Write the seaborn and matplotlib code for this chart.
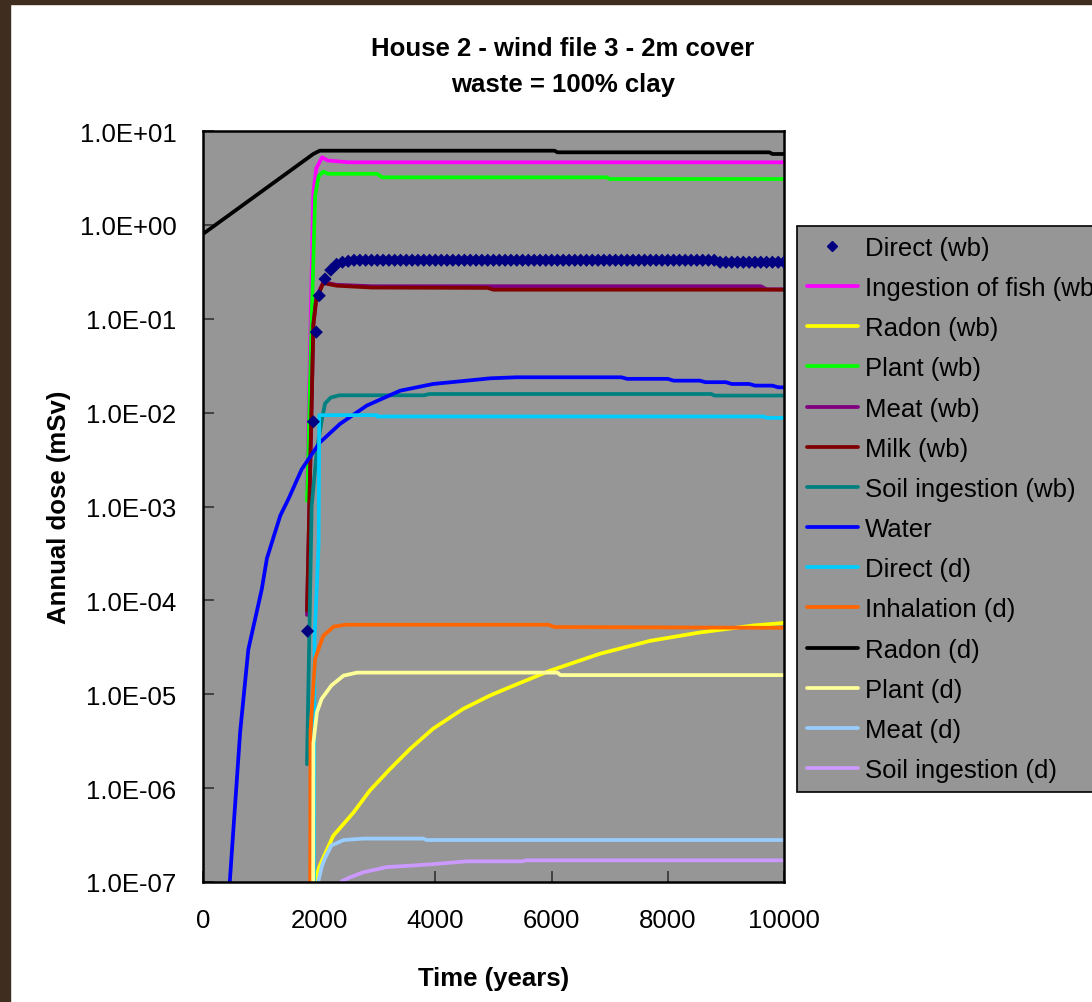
"""Annual dose per pathway, House 2 - wind file 3 - 2m cover, waste = 100% clay."""

import numpy as np
import pandas as pd
import matplotlib
matplotlib.use('Agg')
import matplotlib.pyplot as plt
from matplotlib.lines import Line2D
from matplotlib.patches import Rectangle
from matplotlib.ticker import FixedLocator, FuncFormatter
import seaborn as sns

# Direct (wb) is drawn as markers only, one point every 100 years
direct_wb_years = [1800, 1900, 1950, 2000, 2100, 2200, 2300] + list(range(2400, 10001, 100))
direct_wb_dose = [
    4.7e-5, 8.0e-3, 0.072, 0.176, 0.265, 0.33, 0.38,
    0.40, 0.41, 0.42, 0.42, 0.42, 0.42, 0.42, 0.42, 0.42, 0.42,
    0.42, 0.42, 0.42, 0.42, 0.42, 0.42, 0.42, 0.42, 0.42, 0.42,
    0.42, 0.42, 0.42, 0.42, 0.42, 0.42, 0.42, 0.42, 0.42, 0.42,
    0.42, 0.42, 0.42, 0.42, 0.42, 0.42, 0.42, 0.42, 0.42, 0.42,
    0.42, 0.42, 0.42, 0.42, 0.42, 0.42, 0.42, 0.42, 0.42, 0.42,
    0.42, 0.42, 0.42, 0.42, 0.42, 0.42, 0.42, 0.42, 0.42, 0.42,
    0.42, 0.42, 0.42, 0.42, 0.42, 0.40, 0.40, 0.40, 0.40, 0.40,
    0.40, 0.40, 0.40, 0.40, 0.40, 0.40, 0.40,
]

fish_wb_years = [1790, 1900, 1950, 2050, 2150, 2500, 10000]
fish_wb_dose = [1.5e-3, 2.2, 4.0, 5.25, 4.85, 4.64, 4.64]

radon_wb_years = [1920, 1960, 2010, 2240, 2590, 2870, 3220, 3560, 3960, 4480, 4940,
                  5280, 5970, 6830, 7690, 8550, 9470, 10000]
radon_wb_dose = [9e-8, 1.2e-7, 1.5e-7, 3.1e-7, 5.5e-7, 9.4e-7, 1.6e-6, 2.6e-6, 4.3e-6,
                 7.0e-6, 9.7e-6, 1.19e-5, 1.78e-5, 2.7e-5, 3.7e-5, 4.55e-5, 5.4e-5, 5.75e-5]

plant_wb_years = [1790, 1870, 1930, 1990, 2070, 2150, 3000, 3080, 6950, 7000, 10000]
plant_wb_dose = [1.15e-3, 0.1, 2.05, 3.3, 3.69, 3.5, 3.5, 3.21, 3.21, 3.08, 3.08]

meat_wb_years = [1790, 1900, 1950, 2070, 2300, 2900, 9600, 9700, 10000]
meat_wb_dose = [7.0e-5, 0.09, 0.17, 0.245, 0.23, 0.222, 0.222, 0.206, 0.206]

milk_wb_years = [1790, 1900, 1950, 2070, 2300, 2900, 4900, 5000, 10000]
milk_wb_dose = [7.8e-5, 0.085, 0.16, 0.24, 0.225, 0.215, 0.213, 0.204, 0.204]

soil_wb_years = [1790, 1870, 1960, 2040, 2100, 2200, 2350, 3800, 3900, 8750, 8800, 10000]
soil_wb_dose = [1.8e-6, 1.0e-3, 4.0e-3, 8.0e-3, 0.0125, 0.0145, 0.0153, 0.0153, 0.0158,
                0.0158, 0.0152, 0.0152]

water_years = [450, 520, 640, 780, 1010, 1100, 1330, 1470, 1700, 2010, 2360, 2820, 3390,
               3960, 4540, 4940, 5400, 7200, 7300, 8000, 8100, 8550, 8650, 9000, 9100,
               9400, 9500, 9800, 9900, 10000]
water_dose = [8e-8, 3.4e-7, 4.0e-6, 3.0e-5, 1.3e-4, 2.8e-4, 8.0e-4, 1.2e-3, 2.5e-3, 4.8e-3,
              7.6e-3, 0.0119, 0.0171, 0.0202, 0.0219, 0.0232, 0.0238, 0.0238, 0.0229,
              0.0229, 0.0219, 0.0219, 0.0211, 0.0211, 0.0202, 0.0202, 0.0194, 0.0194,
              0.0186, 0.0186]

direct_d_years = [1900, 1920, 1990, 2000, 2990, 3000, 9650, 9700, 10000]
direct_d_dose = [1e-9, 4e-5, 4e-4, 9.4e-3, 9.4e-3, 9.1e-3, 9.1e-3, 8.8e-3, 8.8e-3]

inhal_d_years = [1840, 1850, 1930, 2070, 2250, 2450, 5950, 6050, 10000]
inhal_d_dose = [1e-9, 4e-6, 2.4e-5, 4.2e-5, 5.25e-5, 5.5e-5, 5.5e-5, 5.2e-5, 5.1e-5]

radon_d_years = [0, 1900, 2010, 6050, 6100, 9750, 9800, 10000]
radon_d_dose = [0.8, 5.7, 6.17, 6.17, 5.93, 5.93, 5.69, 5.69]

plant_d_years = [1890, 1900, 1960, 2040, 2210, 2420, 2650, 6100, 6150, 10000]
plant_d_dose = [1e-9, 3e-6, 6.4e-6, 8.9e-6, 1.24e-5, 1.58e-5, 1.7e-5, 1.7e-5, 1.6e-5, 1.6e-5]

meat_d_years = [1960, 1990, 2050, 2100, 2210, 2420, 2760, 3790, 3850, 10000]
meat_d_dose = [3e-8, 1.05e-7, 1.5e-7, 1.8e-7, 2.45e-7, 2.8e-7, 2.9e-7, 2.9e-7, 2.8e-7, 2.8e-7]

soil_d_years = [2340, 2400, 2530, 2760, 3160, 3620, 3960, 4540, 5500, 5550, 10000]
soil_d_dose = [9.5e-8, 1.03e-7, 1.12e-7, 1.27e-7, 1.44e-7, 1.5e-7, 1.55e-7, 1.66e-7,
               1.66e-7, 1.7e-7, 1.7e-7]

line_series = {
    'Ingestion of fish (wb)': (fish_wb_years, fish_wb_dose, '#FF00FF'),
    'Radon (wb)': (radon_wb_years, radon_wb_dose, '#FFFF00'),
    'Plant (wb)': (plant_wb_years, plant_wb_dose, '#00FF00'),
    'Meat (wb)': (meat_wb_years, meat_wb_dose, '#800080'),
    'Milk (wb)': (milk_wb_years, milk_wb_dose, '#800000'),
    'Soil ingestion (wb)': (soil_wb_years, soil_wb_dose, '#008080'),
    'Water': (water_years, water_dose, '#0000FF'),
    'Direct (d)': (direct_d_years, direct_d_dose, '#00CCFF'),
    'Inhalation (d)': (inhal_d_years, inhal_d_dose, '#FF6600'),
    'Radon (d)': (radon_d_years, radon_d_dose, '#000000'),
    'Plant (d)': (plant_d_years, plant_d_dose, '#FFFF99'),
    'Meat (d)': (meat_d_years, meat_d_dose, '#99CCFF'),
    'Soil ingestion (d)': (soil_d_years, soil_d_dose, '#CC99FF'),
}

sns.set_theme(style='ticks')
plt.rcParams['font.family'] = ['Liberation Sans', 'DejaVu Sans']
plt.rcParams.update({'text.color': 'black', 'axes.labelcolor': 'black',
                     'xtick.color': 'black', 'ytick.color': 'black'})
FS = 18.5
GREY = '#969696'
LW = 2.7

frames = []
for name, (yrs, dose, _) in line_series.items():
    frames.append(pd.DataFrame({'year': yrs, 'dose': dose, 'series': name}))
df = pd.concat(frames, ignore_index=True)
palette = {name: c for name, (_, _, c) in line_series.items()}

fig = plt.figure(figsize=(10.92, 10.03), dpi=100)
fig.patch.set_facecolor('white')
ax = fig.add_axes([203 / 1092, 1 - 883 / 1003, 581 / 1092, 751 / 1003])
ax.set_facecolor(GREY)

sns.lineplot(data=df, x='year', y='dose', hue='series', hue_order=list(line_series),
             palette=palette, estimator=None, sort=False, lw=LW, legend=False, ax=ax)
ax.scatter(direct_wb_years, direct_wb_dose, marker='D', s=45, color='#000080',
           edgecolors='none', zorder=5, clip_on=True)

ax.set_yscale('log')
ax.set_xlim(0, 10000)
ax.set_ylim(1e-7, 10)
ax.xaxis.set_major_locator(FixedLocator([0, 2000, 4000, 6000, 8000, 10000]))
ax.yaxis.set_major_locator(FixedLocator([10.0 ** k for k in range(-7, 2)]))
ax.yaxis.set_minor_locator(FixedLocator([]))
ax.yaxis.set_major_formatter(FuncFormatter(lambda v, p: f"{v:.1E}"))
ax.tick_params(axis='both', direction='in', length=8, width=1.2, color='#333333',
               labelsize=FS, pad=19, top=False, right=False, labelcolor='black')
for s in ax.spines.values():
    s.set_color('black')
    s.set_linewidth(1.8)

ax.set_xlabel('Time (years)', fontsize=FS, fontweight='bold')
ax.set_ylabel('Annual dose (mSv)', fontsize=FS, fontweight='bold')
ax.xaxis.set_label_coords(0.5, -0.112)
ax.yaxis.set_label_coords(-0.228, 0.5)

fig.text(563 / 1092, 1 - 67 / 1003, 'House 2 - wind file 3 - 2m cover\nwaste = 100% clay',
         ha='center', va='center', fontsize=FS, fontweight='bold', linespacing=1.65)

handles = [Line2D([], [], ls='none', marker='D', ms=5, color='#000080')]
handles += [Line2D([], [], color=c, lw=LW) for (_, _, c) in line_series.values()]
labels = ['Direct (wb)'] + list(line_series)
leg = fig.legend(handles, labels, loc='upper left', bbox_to_anchor=(797 / 1092, 1 - 227 / 1003),
                 fontsize=FS, frameon=True, fancybox=False, framealpha=1, facecolor=GREY,
                 edgecolor='black', borderpad=0.38, labelspacing=0.63, handlelength=2.0,
                 handletextpad=0.25, borderaxespad=0)
leg.get_frame().set_linewidth(1.2)

# dark wooden frame on the left and top edges of the slide
fig.patches.append(Rectangle((0, 0), 10 / 1092, 1, transform=fig.transFigure,
                             color='#3f2d20', zorder=10))
fig.patches.append(Rectangle((0, 1 - 5 / 1003), 1, 5 / 1003, transform=fig.transFigure,
                             color='#3f2d20', zorder=10))

plt.savefig('out.png', dpi=100)
print("Saved: out.png")
